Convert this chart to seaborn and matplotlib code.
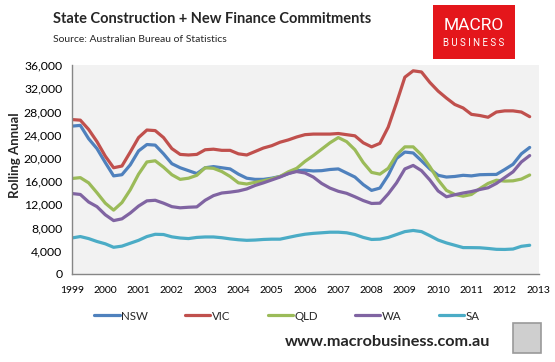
import numpy as np
import pandas as pd
import matplotlib
matplotlib.use("Agg")
import matplotlib.pyplot as plt
import seaborn as sns
from matplotlib.patches import Rectangle

# ---- data (quarterly readings, rolling annual) ----
years = [1999 + 0.25 * i for i in range(56)]

nsw = [25470, 25600, 23300, 21600, 19200, 16900, 17100, 18800, 21200, 22300, 22200, 20700,
       19000, 18300, 17800, 17300, 18300, 18500, 18300, 18100, 17200, 16500, 16300, 16300,
       16500, 16800, 17300, 17800, 17880, 17750, 17800, 18000, 18100, 17400, 16700, 15400,
       14400, 14800, 17000, 19900, 21000, 20850, 19500, 18100, 17000, 16700, 16800, 17000,
       16900, 17100, 17135, 17150, 18000, 18900, 20700, 21800]
vic = [26600, 26500, 24900, 22800, 20300, 18300, 18600, 21000, 23500, 24800, 24700, 23500,
       21600, 20600, 20500, 20600, 21400, 21500, 21300, 21300, 20700, 20500, 21100, 21700,
       22100, 22700, 23100, 23600, 24000, 24100, 24100, 24100, 24200, 24000, 23800, 22600,
       21900, 22500, 25300, 29500, 33900, 35000, 34800, 33000, 31500, 30300, 29200, 28600,
       27500, 27300, 27000, 27900, 28100, 28100, 27900, 27100]
qld = [16450, 16600, 15700, 14000, 12200, 11000, 12300, 14500, 17200, 19300, 19500, 18400,
       17100, 16300, 16500, 17000, 18300, 18200, 17650, 16800, 15700, 15500, 15800, 16050,
       16400, 16800, 17600, 18200, 19400, 20400, 21500, 22600, 23500, 22800, 21400, 19200,
       17500, 17200, 18200, 20500, 21900, 21900, 20500, 18500, 16200, 14400, 13700, 13400,
       13700, 14700, 15600, 16150, 16000, 16050, 16350, 17050]
wa = [13860, 13700, 12400, 11600, 10200, 9200, 9500, 10500, 11700, 12600, 12700, 12200,
      11600, 11400, 11500, 11560, 12700, 13500, 13950, 14100, 14300, 14650, 15250, 15700,
      16200, 16700, 17300, 17650, 17400, 16700, 15600, 14800, 14250, 13900, 13300, 12650,
      12150, 12200, 13800, 15700, 18100, 18700, 17800, 16200, 14300, 13300, 13650, 13950,
      14200, 14550, 14850, 15600, 16600, 17600, 19300, 20400]
sa = [6210, 6450, 6100, 5600, 5200, 4600, 4800, 5300, 5800, 6450, 6840, 6800,
      6400, 6200, 6100, 6300, 6380, 6380, 6250, 6050, 5900, 5800, 5850, 5950,
      6000, 6000, 6300, 6600, 6850, 7000, 7100, 7200, 7200, 7100, 6800, 6300,
      5950, 6000, 6300, 6800, 7300, 7500, 7300, 6600, 5850, 5350, 4950, 4550,
      4540, 4520, 4400, 4250, 4230, 4300, 4770, 4950]

states = ["NSW", "VIC", "QLD", "WA", "SA"]
colors = ["#4F81BD", "#C0504D", "#9BBB59", "#8064A2", "#4BACC6"]
x_ticks = list(range(1999, 2014))
y_ticks = list(range(0, 36001, 4000))

df = pd.concat([
    pd.DataFrame({"year": years, "value": v, "state": s})
    for s, v in zip(states, [nsw, vic, qld, wa, sa])
])

sns.set_theme(style="white")
plt.rcParams["font.family"] = ["Lato", "DejaVu Sans"]

fig = plt.figure(figsize=(5.55, 3.62), dpi=100)
ax = fig.add_axes([72 / 555, 1 - 274 / 362, 467 / 555, 209 / 362])
ax.set_facecolor("#F2F2F2")

sns.lineplot(data=df, x="year", y="value", hue="state", hue_order=states,
             palette=colors, linewidth=2.3, ax=ax, legend=False)

ax.set_xlim(1999, 2013.03)
ax.set_ylim(0, 36000)
ax.set_xticks(x_ticks)
ax.set_xticklabels([str(t) for t in x_ticks], fontsize=7.5, color="#000000")
ax.set_yticks(y_ticks)
ax.set_yticklabels([f"{t:,}" for t in y_ticks], fontsize=8.8, color="#000000")
ax.set_xlabel("")
ax.set_ylabel("Rolling Annual", fontsize=9.5, fontweight="bold")
ax.yaxis.set_label_coords((21 - 72) / 467, (274 - 155) / 209)
for s in ["top", "right"]:
    ax.spines[s].set_visible(False)
for s in ["left", "bottom"]:
    ax.spines[s].set_color("#868686")
    ax.spines[s].set_linewidth(1.0)
ax.tick_params(axis="x", direction="out", length=3.5, width=0.8, color="#868686", pad=5)
ax.tick_params(axis="y", length=0, pad=7)

# titles
fig.text(53 / 555, 1 - 19 / 362, "State Construction + New Finance Commitments",
         fontsize=10.5, fontweight="bold", va="center", ha="left")
fig.text(53 / 555, 1 - 39 / 362, "Source: Australian Bureau of Statistics",
         fontsize=7.5, va="center", ha="left")

# logo
fig.patches.append(Rectangle((433 / 555, 1 - 59 / 362), 82 / 555, 54 / 362,
                             transform=fig.transFigure, facecolor="#E4161B", edgecolor="none"))
fig.text(474 / 555, 1 - 25 / 362, "MACRO", color="white", fontsize=12.5,
         ha="center", va="center", family=["Roboto", "DejaVu Sans"])
fig.text(474 / 555, 1 - 43 / 362, "B U S I N E S S", color="white", fontsize=7,
         ha="center", va="center", family=["Roboto", "DejaVu Sans"])

# legend
handles = [plt.Line2D([0], [0], color=c, lw=2.3) for c in colors]
fig.legend(handles, states, loc="center", bbox_to_anchor=(287 / 555, 1 - 316 / 362),
           ncol=5, frameon=False, fontsize=8.3, handlelength=2.2, handletextpad=0.15,
           columnspacing=3.2)

# footer
fig.text(388 / 555, 1 - 342 / 362, "www.macrobusiness.com.au", fontsize=11.7,
         fontweight="bold", ha="center", va="center")
fig.patches.append(Rectangle((513 / 555, 1 - 353 / 362), 28 / 555, 30 / 362,
                             transform=fig.transFigure, facecolor="#CFCFCF",
                             edgecolor="#9A9A9A", linewidth=1.2))

fig.savefig("out.png", dpi=100)
